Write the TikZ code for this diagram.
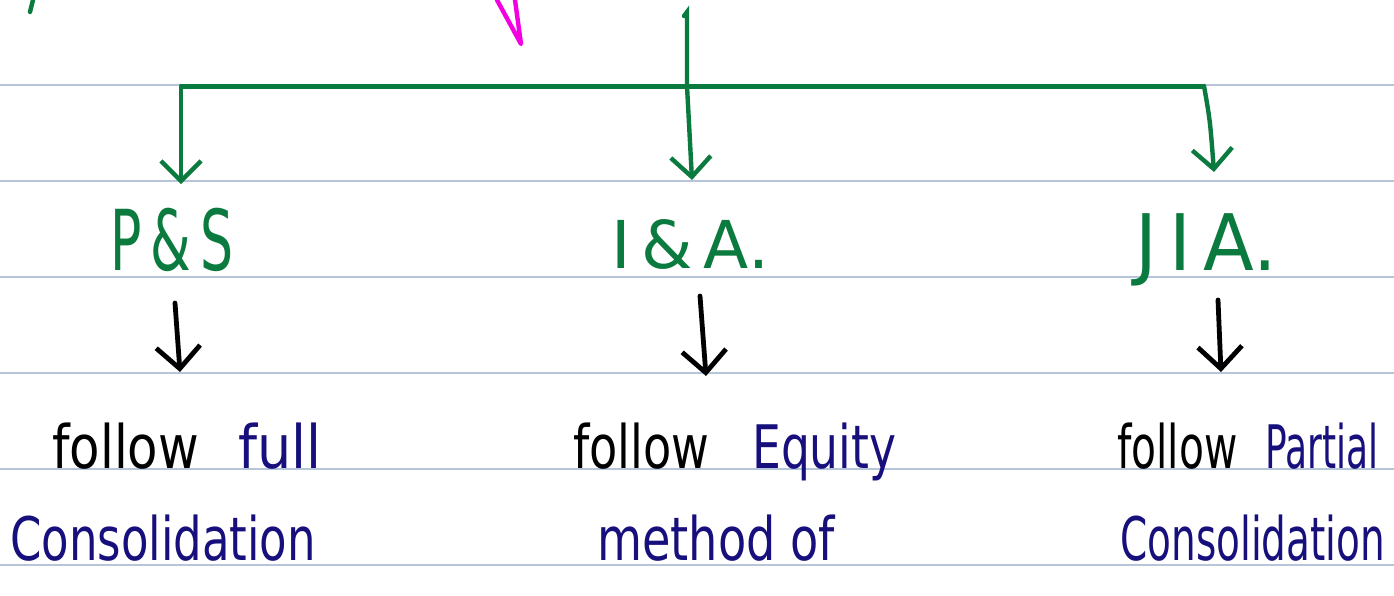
\documentclass[tikz,border=0pt]{standalone}
\usepackage{fontspec}
\setmainfont{DejaVu Sans}
\usetikzlibrary{arrows.meta}
\definecolor{rule}{HTML}{B6C5DA}
\definecolor{inkgreen}{HTML}{0B7A3F}
\definecolor{inknavy}{HTML}{170F7C}
\definecolor{inkpink}{HTML}{F200E2}
\tikzset{
  ruling/.style={draw=rule, line width=2pt},
  garrow/.style={draw=inkgreen, line width=4.4pt, line cap=round,
    -{Straight Barb[length=20pt,width=40pt,line width=4.4pt]}},
  karrow/.style={draw=black, line width=4.8pt, line cap=round,
    -{Straight Barb[length=22pt,width=44pt,line width=4.8pt]}},
  glabel/.style={text=inkgreen, anchor=base, inner sep=0pt},
  hand/.style={anchor=base west, inner sep=0pt},
}
\begin{document}
\begin{tikzpicture}[x=1pt,y=-1pt]
\useasboundingbox (0,0) rectangle (1394,595);
\fill[white] (0,0) rectangle (1394,595);
% ruled lines
\foreach \yy in {85,181,277,373,469,565}
  \draw[ruling] (0,\yy) -- (1394,\yy);
% stray strokes at the top
\draw[inkgreen, line width=4.4pt, line cap=round] (33,0) .. controls (32,6) .. (30,12);
\draw[inkpink, line width=4.4pt, line cap=round, line join=round] (497,0) -- (521,44) -- (515,0);
% green tree
\coordinate (top) at (687,12);
\coordinate (jm) at (687,86);
\coordinate (jl) at (181,86);
\coordinate (jr) at (1204,86);
\coordinate (tl) at (181,184);
\coordinate (tm) at (692,180);
\coordinate (tr) at (1214,172);
\draw[inkgreen, line width=4.4pt, line cap=round] (684,16) -- (top) -- (jm);
\draw[inkgreen, line width=5pt] (jl) -- (jr);
\draw[garrow] (jl) -- (tl);
\draw[garrow] (jm) -- (tm);
\draw[garrow] (jr) .. controls (1210,120) .. (tr);
% green labels
\node[glabel, font=\fontsize{84}{84}\selectfont] (ps) at (172,270) {\scalebox{0.62}[1]{P\,\&\,S}};
\node[glabel, font=\fontsize{66}{66}\selectfont] (isa) at (690,268) {\scalebox{1.0}[1]{I\,\&\,A.}};
\node[glabel, font=\fontsize{78}{78}\selectfont] (jia) at (1206,270) {\scalebox{0.95}[1]{J\,I\,A.}};
% black arrows
\coordinate (bl1) at (175,303); \coordinate (bl2) at (180,372);
\coordinate (bm1) at (700,296); \coordinate (bm2) at (706,376);
\coordinate (br1) at (1218,300); \coordinate (br2) at (1221,372);
\draw[karrow] (bl1) -- (bl2);
\draw[karrow] (bm1) -- (bm2);
\draw[karrow] (br1) -- (br2);
% texts
\node[hand, font=\fontsize{60}{60}\selectfont] (f1) at (52,468) {\scalebox{0.83}[1]{follow}};
\node[hand, text=inknavy, font=\fontsize{60}{60}\selectfont] (full) at (238,468) {\scalebox{0.9}[1]{full}};
\node[hand, text=inknavy, font=\fontsize{60}{60}\selectfont] (c1) at (10,560) {\scalebox{0.75}[1]{Consolidation}};
\node[hand, font=\fontsize{60}{60}\selectfont] (f2) at (573,468) {\scalebox{0.77}[1]{follow}};
\node[hand, text=inknavy, font=\fontsize{60}{60}\selectfont] (eq) at (752,468) {\scalebox{0.76}[1]{Equity}};
\node[hand, text=inknavy, font=\fontsize{60}{60}\selectfont] (me) at (597,560) {\scalebox{0.77}[1]{method of}};
\node[hand, font=\fontsize{60}{60}\selectfont] (f3) at (1117,468) {\scalebox{0.68}[1]{follow}};
\node[hand, text=inknavy, font=\fontsize{60}{60}\selectfont] (pa) at (1265,468) {\scalebox{0.6}[1]{Partial}};
\node[hand, text=inknavy, font=\fontsize{60}{60}\selectfont] (c2) at (1120,560) {\scalebox{0.65}[1]{Consolidation}};
\end{tikzpicture}
\end{document}
